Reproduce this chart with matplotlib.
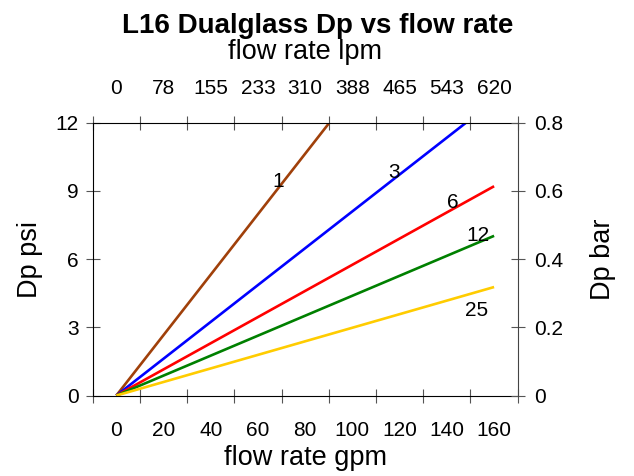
import matplotlib
matplotlib.use("Agg")
import matplotlib.pyplot as plt
import numpy as np

plt.rcParams["font.family"] = ["Liberation Sans", "DejaVu Sans"]

# --- Data ---
series_names = ["1", "3", "6", "12", "25"]
series_colors = ["#A0400A", "#0000FF", "#FF0000", "#008000", "#FFCC00"]
flow_start = [0, 0, 0, 0, 0]
flow_end = [90.3, 148.2, 160, 160, 160]      # gpm
dp_start = [0, 0, 0, 0, 0]
dp_end = [12.0, 12.0, 9.2, 7.02, 4.77]       # psi
label_x = [68.4, 117.6, 142.6, 153.2, 152.7]
label_y = [9.4, 9.8, 8.47, 7.05, 3.76]

gpm_labels = [0, 20, 40, 60, 80, 100, 120, 140, 160]
lpm_labels = ["0", "78", "155", "233", "310", "388", "465", "543", "620"]
x_tick_marks = [-10, 10, 30, 50, 70, 90, 110, 130, 150, 170]
psi_ticks = [0, 3, 6, 9, 12]
bar_ticks = [0, 0.2, 0.4, 0.6, 0.8]
bar_labels = ["0", "0.2", "0.4", "0.6", "0.8"]

# --- Plot ---
fig = plt.figure(figsize=(6.34, 4.76), dpi=100)
ax = fig.add_axes([0.1462, 0.169, 0.6704, 0.5736])
ax_top = ax.twiny()
ax_right = ax.twinx()

for i in range(len(series_names)):
    ax.plot([flow_start[i], flow_end[i]], [dp_start[i], dp_end[i]],
            color=series_colors[i], lw=1.9, solid_capstyle="butt")
    ax.text(label_x[i], label_y[i], series_names[i], fontsize=15,
            ha="center", va="center")

tick_col = "#555555"
ax.set_xlim(-10, 170)
ax.set_ylim(0, 12)
ax.set_xticks(x_tick_marks)
ax.set_xticklabels([])
ax.set_xticks(gpm_labels, minor=True)
ax.set_xticklabels([str(v) for v in gpm_labels], minor=True)
ax.tick_params(axis="x", which="major", direction="inout", length=9.4,
               top=True, color=tick_col, labelbottom=False)
ax.tick_params(axis="x", which="minor", length=0, pad=18, labelsize=15)
ax.set_yticks(psi_ticks)
ax.tick_params(axis="y", direction="inout", length=9.4, color=tick_col,
               pad=5.5, labelsize=15)
ax.spines["right"].set_visible(False)
ax.set_xlabel("flow rate gpm", fontsize=19.5, labelpad=4)
ax.set_ylabel("Dp psi", fontsize=19.5, labelpad=9)

ax_top.set_xlim(-10, 170)
ax_top.set_xticks(gpm_labels)
ax_top.set_xticklabels(lpm_labels)
ax_top.tick_params(axis="x", length=0, pad=18, labelsize=15)
for s in ax_top.spines.values():
    s.set_visible(False)
ax_top.set_xlabel("flow rate lpm", fontsize=19.5, labelpad=14)
ax_top.set_title("L16 Dualglass Dp vs flow rate", fontsize=20,
                 fontweight="bold", pad=0, x=0.53)

ax_right.set_ylim(0, 0.8)
ax_right.set_yticks(bar_ticks)
ax_right.set_yticklabels(bar_labels)
ax_right.tick_params(axis="y", direction="inout", length=9.4, color=tick_col,
                     pad=7.3, labelsize=15)
for k in ["top", "bottom", "left"]:
    ax_right.spines[k].set_visible(False)
ax_right.spines["right"].set_color("#444444")
ax_right.set_ylabel("Dp bar", fontsize=19.5, labelpad=19, rotation=90)

fig.savefig("out.png", dpi=100)
plt.close(fig)
